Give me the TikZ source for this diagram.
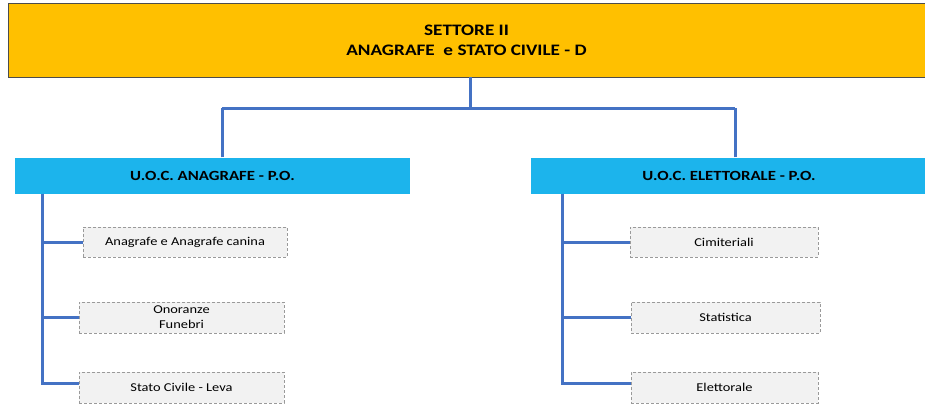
\documentclass[tikz,border=0pt]{standalone}
\usepackage{fontspec}
\setmainfont[FakeStretch=1.2]{Carlito}
\definecolor{topfill}{HTML}{FFC000}
\definecolor{uocfill}{HTML}{1CB4EC}
\definecolor{linkblue}{HTML}{4472C4}
\definecolor{leaffill}{HTML}{F2F2F2}
\definecolor{leafborder}{HTML}{9A9A9A}
\tikzset{
  topbox/.style={draw=black!70, line width=0.8pt, fill=topfill, inner sep=0pt, align=center, font=\bfseries\fontsize{16}{20}\selectfont},
  uocbox/.style={fill=uocfill, inner sep=0pt, align=center, font=\bfseries\fontsize{14}{16}\selectfont},
  leafbox/.style={draw=leafborder, densely dashed, line width=0.5pt, fill=leaffill, inner sep=0pt, align=center, font=\fontsize{12}{15}\selectfont},
  link/.style={draw=linkblue, line width=3pt},
}
\begin{document}
\begin{tikzpicture}[x=1pt,y=-1pt]
\useasboundingbox (0,0) rectangle (925,405);
\fill[white] (0,0) rectangle (925,405);
\node[topbox, minimum width=917pt, minimum height=74pt] (top) at (466.5,40) {SETTORE II\\ANAGRAFE\ \ e STATO CIVILE - D};
\node[uocbox, minimum width=395pt, minimum height=36pt] (uoc1) at (212.5,175.5) {U.O.C. ANAGRAFE - P.O.};
\node[uocbox, minimum width=396pt, minimum height=36pt] (uoc2) at (729,175.5) {U.O.C. ELETTORALE - P.O.};
\node[leafbox, minimum width=204pt, minimum height=30pt] (a1) at (185,242) {Anagrafe e Anagrafe canina};
\node[leafbox, minimum width=205pt, minimum height=31pt] (a2) at (181.5,317.5) {Onoranze\\Funebri};
\node[leafbox, minimum width=205pt, minimum height=31pt] (a3) at (181.5,387.5) {Stato Civile - Leva};
\node[leafbox, minimum width=188pt, minimum height=30pt] (b1) at (724,242) {Cimiteriali};
\node[leafbox, minimum width=189pt, minimum height=31pt] (b2) at (725.5,317.5) {Statistica};
\node[leafbox, minimum width=187pt, minimum height=31pt] (b3) at (724.5,387.5) {Elettorale};
\coordinate (mid) at (470,108);
\coordinate (ls) at (42,383);
\coordinate (rs) at (562,383);
\draw[link] (top.south -| mid) -- (mid);
\draw[link] (222,108) -- (735,108);
\draw[link] (uoc1.north -| 222,0) -- (222,108);
\draw[link] (uoc2.north -| 735,0) -- (735,108);
\draw[link] (uoc1.south -| ls) -- (ls) -- (a3.west |- ls);
\draw[link] (uoc1.south -| ls) |- (a1.west);
\draw[link] (uoc1.south -| ls) |- (a2.west);
\draw[link] (uoc2.south -| rs) -- (rs) -- (b3.west |- rs);
\draw[link] (uoc2.south -| rs) |- (b1.west);
\draw[link] (uoc2.south -| rs) |- (b2.west);
\end{tikzpicture}
\end{document}
